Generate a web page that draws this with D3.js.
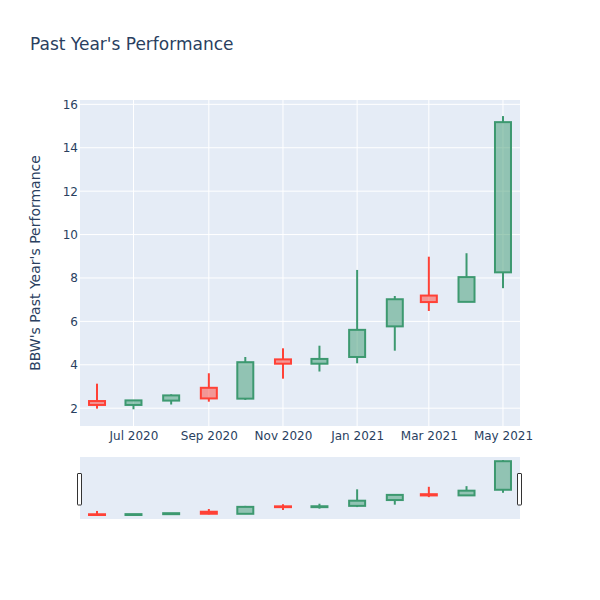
<!DOCTYPE html>
<html>
<head>
<meta charset="utf-8">
<script src="https://cdn.jsdelivr.net/npm/d3@7"></script>
<style>
  body { margin: 0; background: #fff; }
  svg { font-family: "DejaVu Sans", Verdana, sans-serif; }
</style>
</head>
<body>
<svg id="chart" width="600" height="600"></svg>
<script>
// ---- Data ----
const dates = ["2020-06-01","2020-07-01","2020-08-01","2020-09-01","2020-10-01","2020-11-01",
               "2020-12-01","2021-01-01","2021-02-01","2021-03-01","2021-04-01","2021-05-01"];
const openVals  = [2.33, 2.15, 2.35, 2.94, 2.44, 4.25, 4.05, 4.36, 5.77, 7.19, 6.90, 8.26];
const highVals  = [3.13, 2.37, 2.64, 3.61, 4.36, 4.76, 4.88, 8.37, 7.17, 8.98, 9.14, 15.46];
const lowVals   = [1.98, 1.95, 2.17, 2.30, 2.38, 3.36, 3.69, 4.07, 4.65, 6.48, 6.89, 7.53];
const closeVals = [2.15, 2.36, 2.59, 2.45, 4.12, 4.05, 4.27, 5.61, 7.02, 6.89, 8.04, 15.18];
const yTickValues = [2, 4, 6, 8, 10, 12, 14, 16];
const titleText = "Past Year's Performance";
const yTitleText = "BBW's Past Year's Performance";

const parse = d3.timeParse("%Y-%m-%d");
const rows = dates.map((d, i) => ({
  date: parse(d), open: openVals[i], high: highVals[i], low: lowVals[i], close: closeVals[i]
}));

// ---- Layout ----
const svg = d3.select("#chart");
const plot = { left: 80, right: 520, top: 100, bottom: 426 };
const slider = { top: 457, bottom: 519 };
const incColor = "#3D9970", decColor = "#FF4136";
const textColor = "#2a3f5f", bg = "#E5ECF6";
const font = '"DejaVu Sans", Verdana, sans-serif';

const x = d3.scaleTime()
  .domain([parse("2020-05-18"), parse("2021-05-15")])
  .range([plot.left, plot.right]);
const y = d3.scaleLinear().domain([1.18, 16.2]).range([plot.bottom, plot.top]);
const ys = d3.scaleLinear().domain([1.18, 16.2]).range([slider.bottom, slider.top]);

svg.append("rect").attr("x", 0).attr("y", 0).attr("width", 600).attr("height", 600).attr("fill", "#fff");

// Main plot background
svg.append("rect")
  .attr("x", plot.left).attr("y", plot.top)
  .attr("width", plot.right - plot.left).attr("height", plot.bottom - plot.top)
  .attr("fill", bg);

const xTicks = x.ticks(d3.timeMonth.every(2));
// Grid
const grid = svg.append("g");
grid.selectAll("line.xg").data(xTicks).join("line")
  .attr("x1", d => x(d)).attr("x2", d => x(d))
  .attr("y1", plot.top).attr("y2", plot.bottom)
  .attr("stroke", "#fff").attr("stroke-width", 1);
grid.selectAll("line.yg").data(yTickValues).join("line")
  .attr("x1", plot.left).attr("x2", plot.right)
  .attr("y1", d => y(d)).attr("y2", d => y(d))
  .attr("stroke", "#fff").attr("stroke-width", 1);

// Axes (labels only)
const yAxis = d3.axisLeft(y).tickValues(yTickValues).tickSize(0).tickPadding(2);
const gy = svg.append("g").attr("transform", `translate(${plot.left},0)`).call(yAxis);
gy.select(".domain").remove();
gy.selectAll("text").attr("fill", textColor).style("font-size", "12px").style("font-family", font);

const xAxis = d3.axisBottom(x).tickValues(xTicks).tickFormat(d3.timeFormat("%b %Y")).tickSize(0).tickPadding(5);
const gx = svg.append("g").attr("transform", `translate(0,${plot.bottom})`).call(xAxis);
gx.select(".domain").remove();
gx.selectAll("text").attr("fill", textColor).style("font-size", "12px").style("font-family", font);

// Candles
const halfW = 8;
function drawCandles(g, yScale) {
  const c = g.selectAll("g.candle").data(rows).join("g").attr("class", "candle");
  c.each(function(d) {
    const sel = d3.select(this);
    const col = d.close >= d.open ? incColor : decColor;
    const cx = x(d.date);
    const top = yScale(Math.max(d.open, d.close));
    const bot = yScale(Math.min(d.open, d.close));
    sel.append("line").attr("x1", cx).attr("x2", cx)
      .attr("y1", yScale(d.high)).attr("y2", top)
      .attr("stroke", col).attr("stroke-width", 2);
    sel.append("line").attr("x1", cx).attr("x2", cx)
      .attr("y1", bot).attr("y2", yScale(d.low))
      .attr("stroke", col).attr("stroke-width", 2);
    sel.append("rect")
      .attr("x", cx - halfW).attr("y", top)
      .attr("width", halfW * 2).attr("height", Math.max(bot - top, 0.5))
      .attr("fill", col).attr("fill-opacity", 0.5)
      .attr("stroke", col).attr("stroke-width", 2);
  });
}
const defs = svg.append("defs");
defs.append("clipPath").attr("id", "clipMain").append("rect")
  .attr("x", plot.left).attr("y", plot.top)
  .attr("width", plot.right - plot.left).attr("height", plot.bottom - plot.top);
drawCandles(svg.append("g").attr("clip-path", "url(#clipMain)"), y);

// Range slider
svg.append("rect")
  .attr("x", plot.left).attr("y", slider.top)
  .attr("width", plot.right - plot.left).attr("height", slider.bottom - slider.top)
  .attr("fill", bg);
defs.append("clipPath").attr("id", "clipS").append("rect")
  .attr("x", plot.left).attr("y", slider.top)
  .attr("width", plot.right - plot.left).attr("height", slider.bottom - slider.top);
drawCandles(svg.append("g").attr("clip-path", "url(#clipS)"), ys);

// Slider handles
[plot.left, plot.right].forEach(hx => {
  svg.append("rect")
    .attr("x", hx - 2.5).attr("y", 473.5)
    .attr("width", 4).attr("height", 31.5)
    .attr("rx", 0.5)
    .attr("fill", "#fff").attr("stroke", "#333").attr("stroke-width", 1);
});

// Titles
svg.append("text").attr("x", 30).attr("y", 50)
  .attr("fill", textColor).style("font-size", "17px").style("font-family", font).text(titleText);
svg.append("text")
  .attr("transform", `translate(40,${(plot.top + plot.bottom) / 2}) rotate(-90)`)
  .attr("text-anchor", "middle")
  .attr("fill", textColor).style("font-size", "14px").style("font-family", font).text(yTitleText);
</script>
</body>
</html>
